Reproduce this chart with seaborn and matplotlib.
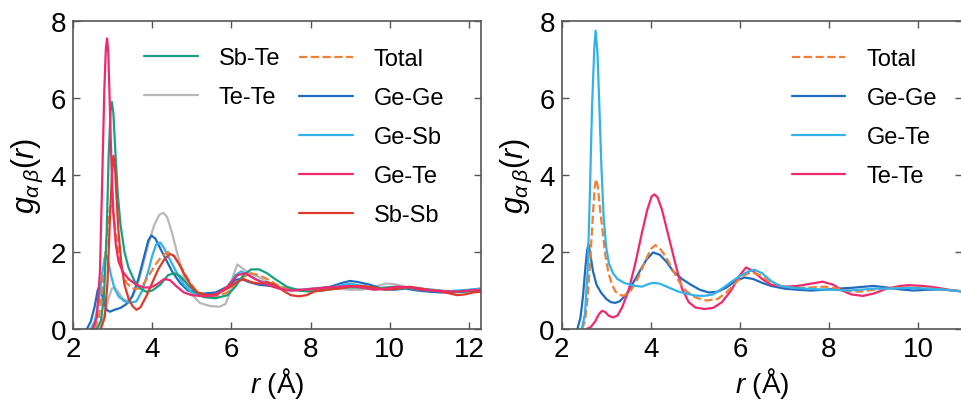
import numpy as np
import pandas as pd
import matplotlib
matplotlib.use("Agg")
import matplotlib.pyplot as plt
import seaborn as sns
from matplotlib.lines import Line2D
from matplotlib import font_manager

sns.set_theme(style="ticks")
plt.rcParams["font.family"] = ["Liberation Sans", "DejaVu Sans"]
plt.rcParams["text.color"] = "black"
plt.rcParams["axes.labelcolor"] = "black"
plt.rcParams["xtick.labelcolor"] = "black"
plt.rcParams["ytick.labelcolor"] = "black"
plt.rcParams["mathtext.fontset"] = "custom"
plt.rcParams["mathtext.it"] = "Liberation Sans:italic"
plt.rcParams["mathtext.rm"] = "Liberation Sans"

_names = {f.name for f in font_manager.fontManager.ttflist}
TICK_FAMILY = "Liberation Sans Narrow" if "Liberation Sans Narrow" in _names else "Liberation Sans"

# ---------------- Left panel: partial g(r) of the GeSbTe model ----------------
L_GeTe_r = [2.50, 2.60, 2.68, 2.74, 2.79, 2.83, 2.86, 2.89, 2.93, 2.97, 3.02, 3.08, 3.15, 3.25, 3.4, 3.6, 3.8, 3.95,
            4.1, 4.3, 4.45, 4.6, 4.8, 5.0, 5.3, 5.6, 5.9, 6.15, 6.35, 6.6, 6.9, 7.2, 7.5, 7.8, 8.1, 8.4, 8.7, 9.0,
            9.3, 9.6, 9.9, 10.2, 10.5, 10.8, 11.1, 11.4, 11.7, 12.0, 12.3]
L_GeTe_g = [0.0, 0.3, 1.5, 4.0, 6.2, 7.3, 7.55, 7.2, 5.8, 4.3, 3.0, 2.2, 1.75, 1.5, 1.3, 1.15, 1.08, 1.08,
            1.15, 1.3, 1.27, 1.12, 0.95, 0.88, 0.85, 0.88, 1.1, 1.4, 1.45, 1.3, 1.15, 1.05, 1.0, 1.02, 1.05, 1.08,
            1.1, 1.12, 1.08, 1.02, 1.05, 1.1, 1.08, 1.02, 1.0, 0.98, 0.97, 1.0, 1.02]

L_SbTe_r = [2.60, 2.70, 2.78, 2.85, 2.9, 2.95, 2.98, 3.02, 3.07, 3.13, 3.2, 3.3, 3.4, 3.55, 3.7, 3.85, 4.0, 4.2,
            4.4, 4.55, 4.7, 4.9, 5.1, 5.3, 5.6, 5.9, 6.1, 6.3, 6.5, 6.7, 6.9, 7.1, 7.4, 7.7, 8.0, 8.3, 8.6, 8.9,
            9.2, 9.5, 9.8, 10.1, 10.4, 10.7, 11.0, 11.3, 11.6, 11.9, 12.3]
L_SbTe_g = [0.0, 0.2, 0.8, 2.5, 4.5, 5.7, 5.9, 5.6, 4.6, 3.5, 2.7, 2.0, 1.6, 1.25, 1.05, 0.97, 1.0, 1.15,
            1.4, 1.45, 1.38, 1.15, 0.95, 0.83, 0.8, 0.88, 1.1, 1.4, 1.55, 1.55, 1.45, 1.3, 1.1, 1.0, 0.97, 1.0,
            1.05, 1.08, 1.08, 1.05, 1.07, 1.1, 1.08, 1.03, 1.0, 0.98, 0.95, 0.97, 1.0]

L_SbSb_r = [2.70, 2.8, 2.87, 2.93, 2.98, 3.02, 3.06, 3.1, 3.15, 3.22, 3.3, 3.4, 3.5, 3.6, 3.7, 3.85, 4.0, 4.15,
            4.3, 4.45, 4.55, 4.7, 4.85, 5.0, 5.15, 5.3, 5.5, 5.7, 5.9, 6.1, 6.3, 6.5, 6.7, 6.9, 7.1, 7.3, 7.5,
            7.7, 7.9, 8.1, 8.4, 8.7, 9.0, 9.3, 9.6, 9.9, 10.2, 10.5, 10.8, 11.1, 11.4, 11.7, 11.9, 12.1, 12.3]
L_SbSb_g = [0.0, 0.3, 1.2, 2.8, 4.0, 4.5, 4.2, 3.4, 2.5, 1.7, 1.15, 0.8, 0.6, 0.5, 0.56, 0.85, 1.2, 1.55,
            1.8, 1.95, 1.9, 1.65, 1.35, 1.1, 0.95, 0.9, 0.88, 0.95, 1.05, 1.2, 1.3, 1.22, 1.18, 1.22, 1.15, 1.0,
            0.88, 0.85, 0.88, 0.98, 1.02, 1.05, 1.1, 1.12, 1.08, 1.02, 1.05, 1.1, 1.05, 1.0, 0.95, 0.88, 0.9,
            0.95, 0.97]

L_Total_r = [2.55, 2.65, 2.72, 2.78, 2.83, 2.88, 2.93, 2.97, 3.02, 3.08, 3.15, 3.25, 3.35, 3.5, 3.65, 3.8, 3.95,
             4.1, 4.25, 4.4, 4.55, 4.7, 4.9, 5.1, 5.3, 5.6, 5.9, 6.1, 6.3, 6.5, 6.7, 6.9, 7.2, 7.5, 7.8, 8.1,
             8.4, 8.7, 9.0, 9.3, 9.6, 9.9, 10.2, 10.5, 10.8, 11.1, 11.4, 11.7, 12.0, 12.3]
L_Total_g = [0.0, 0.3, 0.8, 1.5, 2.1, 2.7, 3.15, 3.2, 3.0, 2.5, 1.95, 1.5, 1.2, 1.05, 1.05, 1.2, 1.45,
             1.7, 1.9, 2.0, 1.9, 1.65, 1.3, 1.0, 0.88, 0.85, 0.95, 1.15, 1.35, 1.45, 1.4, 1.3, 1.12, 1.02, 1.0,
             1.02, 1.05, 1.08, 1.1, 1.08, 1.05, 1.07, 1.08, 1.06, 1.02, 1.0, 0.98, 0.96, 0.98, 1.0]

L_GeSb_r = [2.45, 2.55, 2.65, 2.73, 2.8, 2.85, 2.9, 2.97, 3.05, 3.15, 3.3, 3.45, 3.6, 3.75, 3.9, 4.0, 4.1, 4.2,
            4.3, 4.45, 4.6, 4.8, 5.0, 5.3, 5.6, 5.9, 6.1, 6.25, 6.4, 6.6, 6.9, 7.2, 7.5, 7.8, 8.1, 8.4, 8.7,
            9.0, 9.3, 9.6, 9.9, 10.2, 10.5, 10.8, 11.1, 11.4, 11.7, 12.0, 12.3]
L_GeSb_g = [0.0, 0.2, 0.7, 1.4, 1.85, 1.9, 1.7, 1.35, 1.05, 0.85, 0.72, 0.68, 0.72, 1.0, 1.5, 1.9, 2.2, 2.25,
            2.1, 1.8, 1.5, 1.15, 0.95, 0.85, 0.85, 1.1, 1.4, 1.5, 1.42, 1.3, 1.18, 1.08, 1.0, 1.02, 1.05, 1.05,
            1.12, 1.18, 1.12, 1.05, 1.02, 1.05, 1.08, 1.05, 1.02, 0.98, 1.0, 1.02, 1.05]

L_GeGe_r = [2.35, 2.45, 2.55, 2.62, 2.67, 2.72, 2.78, 2.85, 2.93, 3.05, 3.2, 3.35, 3.5, 3.65, 3.8, 3.9, 3.98,
            4.08, 4.2, 4.35, 4.5, 4.7, 4.9, 5.1, 5.3, 5.6, 5.9, 6.1, 6.25, 6.45, 6.7, 7.0, 7.3, 7.6, 7.9, 8.2,
            8.5, 8.8, 9.0, 9.2, 9.5, 9.8, 10.1, 10.4, 10.7, 11.0, 11.3, 11.6, 11.9, 12.3]
L_GeGe_g = [0.0, 0.2, 0.6, 1.0, 1.12, 0.95, 0.7, 0.5, 0.45, 0.5, 0.55, 0.65, 0.85, 1.3, 1.9, 2.3, 2.43,
            2.35, 2.1, 1.8, 1.5, 1.2, 1.0, 0.95, 0.92, 0.95, 1.1, 1.28, 1.3, 1.22, 1.15, 1.12, 1.05, 1.02, 1.0,
            1.05, 1.1, 1.2, 1.25, 1.22, 1.15, 1.05, 1.02, 1.05, 1.0, 0.97, 0.95, 0.97, 1.0, 1.05]

L_TeTe_r = [2.6, 2.7, 2.8, 2.9, 2.98, 3.05, 3.15, 3.25, 3.35, 3.45, 3.6, 3.75, 3.9, 4.05, 4.18, 4.28, 4.38, 4.5,
            4.65, 4.8, 5.0, 5.2, 5.45, 5.7, 5.85, 5.95, 6.05, 6.15, 6.25, 6.45, 6.7, 6.9, 7.2, 7.5, 7.8, 8.1,
            8.4, 8.7, 9.0, 9.3, 9.6, 9.9, 10.1, 10.4, 10.7, 11.0, 11.3, 11.6, 11.9, 12.3]
L_TeTe_g = [0.0, 0.1, 0.4, 0.8, 1.05, 1.08, 0.95, 0.8, 0.73, 0.78, 1.05, 1.6, 2.2, 2.7, 2.97, 3.02, 2.9, 2.5,
            1.9, 1.35, 0.9, 0.68, 0.6, 0.58, 0.65, 0.9, 1.4, 1.68, 1.6, 1.45, 1.35, 1.22, 1.1, 1.05, 1.03, 1.06,
            1.08, 1.05, 1.02, 1.02, 1.1, 1.18, 1.17, 1.1, 1.05, 1.02, 1.0, 0.98, 1.0, 1.0]

# ---------------- Right panel: GeTe model ----------------
R_GeTe_r = [2.45, 2.52, 2.58, 2.63, 2.68, 2.73, 2.76, 2.8, 2.84, 2.89, 2.94, 3.0, 3.06, 3.15, 3.25, 3.4, 3.6,
            3.8, 3.95, 4.05, 4.2, 4.4, 4.6, 4.8, 5.0, 5.2, 5.4, 5.6, 5.8, 6.0, 6.2, 6.33, 6.5, 6.7, 6.9, 7.2,
            7.5, 7.8, 8.1, 8.4, 8.7, 9.0, 9.3, 9.6, 9.9, 10.2, 10.5, 10.8, 11.0]
R_GeTe_g = [0.0, 0.4, 1.5, 3.5, 5.8, 7.3, 7.75, 7.2, 5.9, 4.2, 2.9, 2.1, 1.7, 1.45, 1.3, 1.2, 1.13,
            1.1, 1.17, 1.2, 1.18, 1.08, 0.98, 0.92, 0.87, 0.86, 0.9, 1.05, 1.22, 1.38, 1.5, 1.54, 1.45, 1.25,
            1.12, 1.07, 1.05, 1.03, 1.02, 1.0, 1.02, 1.05, 1.05, 1.06, 1.07, 1.05, 1.03, 1.0, 0.98]

R_GeGe_r = [2.35, 2.42, 2.48, 2.53, 2.57, 2.6, 2.64, 2.7, 2.78, 2.88, 3.0, 3.1, 3.2, 3.3, 3.45, 3.6, 3.75, 3.9,
            4.05, 4.2, 4.35, 4.5, 4.7, 4.9, 5.1, 5.3, 5.5, 5.7, 5.9, 6.1, 6.3, 6.5, 6.7, 7.0, 7.3, 7.6, 7.9,
            8.2, 8.5, 8.8, 9.0, 9.3, 9.6, 9.9, 10.2, 10.5, 10.8, 11.0]
R_GeGe_g = [0.0, 0.3, 0.9, 1.6, 2.05, 2.2, 1.95, 1.5, 1.15, 0.95, 0.78, 0.7, 0.68, 0.72, 0.9, 1.2, 1.5, 1.8,
            1.99, 1.93, 1.75, 1.5, 1.3, 1.15, 1.02, 0.95, 0.97, 1.08, 1.25, 1.34, 1.3, 1.2, 1.12, 1.05, 1.02,
            1.0, 1.02, 1.05, 1.07, 1.1, 1.12, 1.08, 1.03, 1.0, 1.02, 1.03, 1.0, 0.98]

R_Total_r = [2.45, 2.52, 2.58, 2.64, 2.7, 2.74, 2.77, 2.81, 2.86, 2.92, 2.98, 3.05, 3.12, 3.2, 3.3, 3.4, 3.55,
             3.7, 3.85, 4.0, 4.1, 4.2, 4.35, 4.5, 4.65, 4.8, 5.0, 5.25, 5.5, 5.7, 5.9, 6.1, 6.25, 6.45, 6.7,
             7.0, 7.3, 7.6, 7.9, 8.2, 8.5, 8.7, 9.0, 9.3, 9.6, 9.9, 10.2, 10.5, 10.8, 11.0]
R_Total_g = [0.0, 0.2, 0.8, 1.8, 3.0, 3.7, 3.89, 3.7, 3.1, 2.5, 1.9, 1.45, 1.18, 0.98, 0.88, 0.87, 1.0,
             1.3, 1.7, 2.08, 2.18, 2.1, 1.85, 1.52, 1.2, 0.98, 0.82, 0.74, 0.78, 0.95, 1.2, 1.4, 1.48, 1.4, 1.2,
             1.1, 1.07, 1.08, 1.1, 1.05, 0.98, 0.97, 1.02, 1.05, 1.08, 1.08, 1.06, 1.03, 1.0, 0.98]

R_TeTe_r = [2.55, 2.65, 2.75, 2.83, 2.9, 2.97, 3.05, 3.15, 3.25, 3.35, 3.5, 3.65, 3.8, 3.92, 4.02, 4.08, 4.15,
            4.25, 4.4, 4.55, 4.7, 4.85, 5.0, 5.2, 5.4, 5.6, 5.8, 6.0, 6.14, 6.3, 6.5, 6.7, 7.0, 7.3, 7.6, 7.86,
            8.1, 8.3, 8.5, 8.76, 9.0, 9.3, 9.6, 9.8, 10.1, 10.4, 10.7, 11.0]
R_TeTe_g = [0.0, 0.05, 0.2, 0.38, 0.47, 0.45, 0.35, 0.3, 0.35, 0.55, 1.0, 1.7, 2.5, 3.1, 3.45, 3.5, 3.42,
            3.1, 2.4, 1.7, 1.05, 0.7, 0.56, 0.52, 0.55, 0.7, 1.0, 1.4, 1.6, 1.5, 1.3, 1.15, 1.1, 1.12, 1.18,
            1.23, 1.15, 1.0, 0.9, 0.86, 0.92, 1.05, 1.12, 1.14, 1.12, 1.08, 1.02, 0.97]

C_TOTAL = "#f07f35"
C_GEGE = "#1f6cbf"
C_LIGHT = "#33b2ea"
C_PINK = "#f0286e"
C_RED = "#e03a2a"
C_TEAL = "#17a080"
C_GRAY = "#b8b8b8"
SPINE = "#555555"

left_series = [
    ("Sb-Te", L_SbTe_r, L_SbTe_g, C_TEAL, "-"),
    ("Te-Te", L_TeTe_r, L_TeTe_g, C_GRAY, "-"),
    ("Total", L_Total_r, L_Total_g, C_TOTAL, "--"),
    ("Ge-Ge", L_GeGe_r, L_GeGe_g, C_GEGE, "-"),
    ("Ge-Sb", L_GeSb_r, L_GeSb_g, C_LIGHT, "-"),
    ("Ge-Te", L_GeTe_r, L_GeTe_g, C_PINK, "-"),
    ("Sb-Sb", L_SbSb_r, L_SbSb_g, C_RED, "-"),
]
right_series = [
    ("Total", R_Total_r, R_Total_g, C_TOTAL, "--"),
    ("Ge-Ge", R_GeGe_r, R_GeGe_g, C_GEGE, "-"),
    ("Ge-Te", R_GeTe_r, R_GeTe_g, C_LIGHT, "-"),
    ("Te-Te", R_TeTe_r, R_TeTe_g, C_PINK, "-"),
]

# drawing order (last drawn on top)
left_order = ["Te-Te", "Ge-Ge", "Ge-Sb", "Total", "Sb-Te", "Sb-Sb", "Ge-Te"]
right_order = ["Ge-Ge", "Te-Te", "Total", "Ge-Te"]

fig = plt.figure(figsize=(9.62, 4.02), dpi=100)
axL = fig.add_axes([0.0759, 0.179, 0.424, 0.766])
axR = fig.add_axes([0.584, 0.179, 0.4165, 0.766])

LW = 1.6


def draw(ax, series, order):
    lookup = {s[0]: s for s in series}
    for name in order:
        _, r, g, c, ls = lookup[name]
        df = pd.DataFrame({"r": r, "g": g})
        sns.lineplot(data=df, x="r", y="g", ax=ax, color=c, lw=LW, linestyle=ls,
                     sort=False, estimator=None, legend=False)


draw(axL, left_series, left_order)
draw(axR, right_series, right_order)

for ax, xmax, xt in [(axL, 12.3, [2, 4, 6, 8, 10, 12]), (axR, 11.0, [2, 4, 6, 8, 10])]:
    ax.set_xlim(2, xmax)
    ax.set_ylim(0, 8)
    ax.set_xticks(xt)
    ax.set_yticks([0, 2, 4, 6, 8])
    ax.tick_params(direction="in", top=True, right=True, length=5, width=1.0,
                   color=SPINE, labelsize=20, pad=5)
    for lab in ax.get_xticklabels() + ax.get_yticklabels():
        lab.set_family(TICK_FAMILY)
    for sp in ax.spines.values():
        sp.set_color(SPINE)
        sp.set_linewidth(1.2)
    ax.set_xlabel("$r$ (Å)", fontsize=20, labelpad=2)
    ax.set_ylabel(r"$g_{\alpha\,\beta}(r)$", fontsize=22, labelpad=4)


def handles(series, names):
    lookup = {s[0]: s for s in series}
    return [Line2D([], [], color=lookup[n][3], lw=LW, linestyle=lookup[n][4]) for n in names]


leg_kw = dict(frameon=False, fontsize=17, handlelength=2.25, handletextpad=0.9,
              labelspacing=0.72, borderaxespad=0, borderpad=0)

n1 = ["Sb-Te", "Te-Te"]
leg1 = axL.legend(handles(left_series, n1), n1, loc="upper left",
                  bbox_to_anchor=(0.175, 0.915), **leg_kw)
axL.add_artist(leg1)
n2 = ["Total", "Ge-Ge", "Ge-Sb", "Ge-Te", "Sb-Sb"]
axL.legend(handles(left_series, n2), n2, loc="upper left",
           bbox_to_anchor=(0.555, 0.912), **leg_kw)

n3 = ["Total", "Ge-Ge", "Ge-Te", "Te-Te"]
axR.legend(handles(right_series, n3), n3, loc="upper left",
           bbox_to_anchor=(0.575, 0.912), **leg_kw)

fig.savefig("out.png", dpi=100)
